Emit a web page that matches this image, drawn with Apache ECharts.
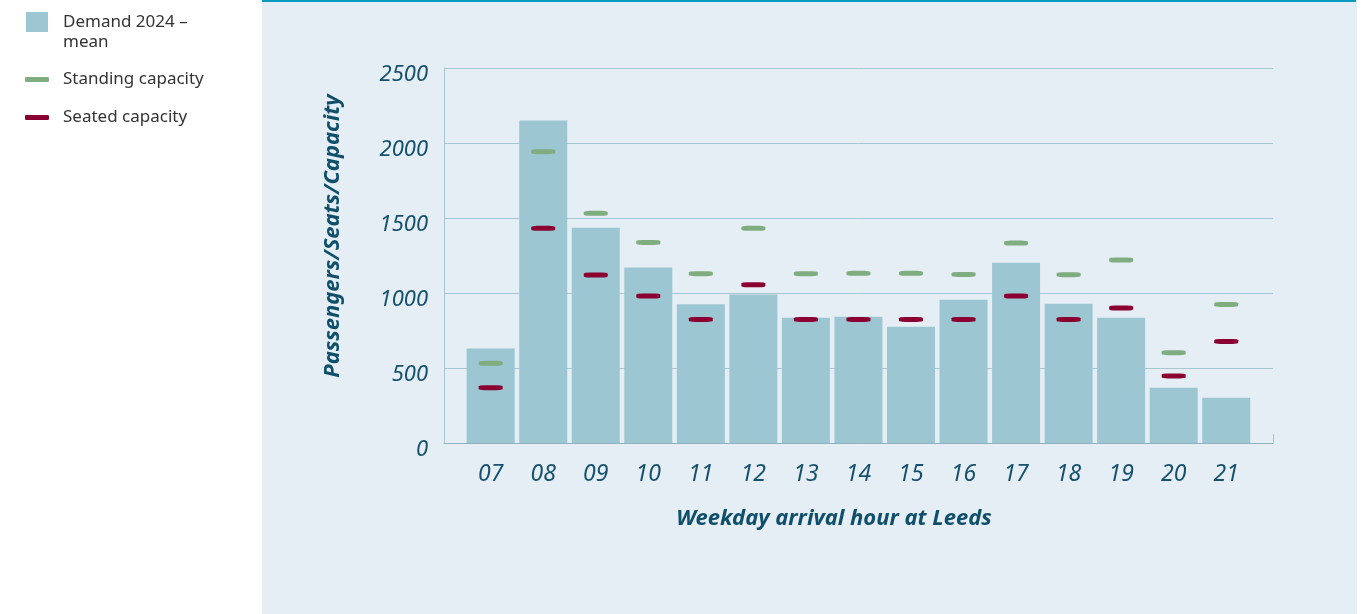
<!DOCTYPE html>
<html>
<head>
<meta charset="utf-8">
<script src="https://cdn.jsdelivr.net/npm/echarts@6/dist/echarts.min.js"></script>
<style>
  html, body { margin: 0; padding: 0; background: #fff; }
  #chart { width: 1367px; height: 614px; }
</style>
</head>
<body>
<div id="chart"></div>
<script>
// weekday arrival hour at Leeds
var hours = ['07', '08', '09', '10', '11', '12', '13', '14', '15', '16', '17', '18', '19', '20', '21'];
var demand = [630, 2150, 1435, 1170, 925, 990, 835, 842, 775, 955, 1202, 929, 835, 369, 302];
var standing = [531, 1942, 1531, 1337, 1129, 1431, 1129, 1131, 1131, 1124, 1333, 1122, 1220, 602, 924];
var seated = [369, 1431, 1120, 980, 824, 1055, 824, 824, 824, 824, 980, 824, 900, 447, 677];
var yTicks = { min: 0, max: 2500, step: 500 };

var chart = echarts.init(document.getElementById('chart'));
var textCol = '#15506c';
var font = '"Noto Sans", "Open Sans", sans-serif';

var option = {
    animation: false,
    textStyle: { fontFamily: font },
    graphic: [
        { type: 'rect', z: -10, shape: { x: 262, y: 0, width: 1095, height: 614 }, style: { fill: '#e5eef4' } },
        { type: 'rect', z: -9, shape: { x: 262, y: 0, width: 1094, height: 2 }, style: { fill: '#0a9cc0' } },
        {
            type: 'text', x: 333, y: 236, rotation: Math.PI / 2,
            style: { text: 'Passengers/Seats/Capacity', font: 'italic bold 22px ' + font, fill: '#0f4f6b', align: 'center', verticalAlign: 'middle' }
        },
        {
            type: 'text', x: 834, y: 519,
            style: { text: 'Weekday arrival hour at Leeds', font: 'italic bold 22px ' + font, fill: '#0f4f6b', align: 'center', verticalAlign: 'middle' }
        }
    ],
    legend: [
        {
            // square sits in the top half of a 22x40 icon box, next to the first text line
            data: [{ name: 'Demand 2024 –\nmean', icon: 'path://M0,0L22,0L22,20L0,20Z M0,40L0.01,40L0.01,39.99Z' }],
            left: 26, top: 12, padding: 0, itemWidth: 22, itemHeight: 40,
            textStyle: { fontSize: 17, lineHeight: 20, color: '#333', padding: [0, 0, 0, 10] }
        },
        {
            data: [{ name: 'Standing capacity', icon: 'roundRect' }],
            left: 25, top: 71, padding: 0, itemWidth: 24, itemHeight: 5,
            textStyle: { fontSize: 17, color: '#333', padding: [0, 0, 0, 9] }
        },
        {
            data: [{ name: 'Seated capacity', icon: 'roundRect' }],
            left: 25, top: 109, padding: 0, itemWidth: 24, itemHeight: 5,
            textStyle: { fontSize: 17, color: '#333', padding: [0, 0, 0, 9] }
        }
    ],
    grid: [
        { left: 444, right: 94, top: 68, bottom: 171 },
        { left: 464.4, right: 114.5, top: 68, bottom: 171 }
    ],
    xAxis: [
        {
            type: 'value', gridIndex: 0, min: 0, max: 1, interval: 1,
            axisLabel: { show: false },
            splitLine: { show: false },
            axisLine: { show: true, lineStyle: { color: '#8fb0bf', width: 1 } },
            axisTick: { show: true, inside: true, length: 9, lineStyle: { color: '#a6c6d2' } }
        },
        {
            type: 'category', gridIndex: 1, data: hours,
            axisLine: { show: false },
            axisTick: { show: false },
            axisLabel: { fontSize: 23, fontStyle: 'italic', color: textCol, margin: 20 }
        }
    ],
    yAxis: [
        {
            type: 'value', gridIndex: 0, min: yTicks.min, max: yTicks.max, interval: yTicks.step,
            axisLine: { show: true, lineStyle: { color: '#a6c6d2' } },
            axisTick: { show: false },
            splitLine: { lineStyle: { color: '#a6c6d2', width: 1 } },
            axisLabel: {
                fontSize: 22, fontStyle: 'italic', color: textCol, margin: 16,
                verticalAlign: 'top', lineHeight: 14,
                formatter: function (v) { return String(v); }
            }
        },
        {
            type: 'value', gridIndex: 1, min: yTicks.min, max: yTicks.max,
            show: false
        }
    ],
    series: [
        {
            name: 'Demand 2024 –\nmean', type: 'bar', xAxisIndex: 1, yAxisIndex: 1,
            barWidth: 48, data: demand,
            itemStyle: { color: '#9dc6d3' }
        },
        {
            name: 'Standing capacity', type: 'scatter', xAxisIndex: 1, yAxisIndex: 1,
            symbol: 'roundRect', symbolSize: [24, 5], data: standing,
            itemStyle: { color: '#80ad7f', opacity: 1 }, z: 5
        },
        {
            name: 'Seated capacity', type: 'scatter', xAxisIndex: 1, yAxisIndex: 1,
            symbol: 'roundRect', symbolSize: [24, 5], data: seated,
            itemStyle: { color: '#8a0030', opacity: 1 }, z: 5
        }
    ]
};
chart.setOption(option);
</script>
</body>
</html>
